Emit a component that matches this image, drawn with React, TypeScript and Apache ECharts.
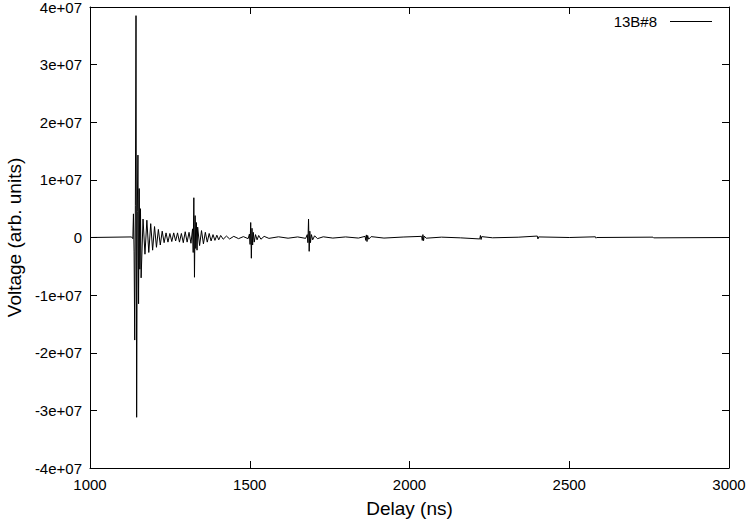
import React, { useEffect, useRef } from "react";
import * as echarts from "echarts";

// Delay in ns
const delays: number[] = [
  1000, 1130, 1134,
  1136, 1138, 1140, 1142, 1144, 1146, 1148, 1150, 1152, 1154, 1156, 1158, 1160,
  1166, 1172, 1178, 1184, 1190, 1196, 1202, 1208, 1214, 1220, 1226, 1232, 1238,
  1244, 1250, 1256, 1262, 1268, 1274, 1280, 1286, 1292, 1298, 1304, 1310, 1316,
  1321, 1323, 1325, 1327, 1329, 1331, 1333, 1335, 1337,
  1343, 1349, 1355, 1361, 1367, 1373, 1379, 1385, 1391, 1397, 1403, 1409, 1417,
  1427, 1437, 1450, 1465, 1480, 1495,
  1499, 1501, 1503, 1505, 1507, 1509, 1511, 1514, 1518, 1523, 1528, 1535, 1545, 1560,
  1590, 1620, 1650, 1675,
  1680, 1682, 1684, 1686, 1688, 1690, 1693, 1697, 1703, 1712, 1730, 1760, 1800, 1840,
  1861, 1863, 1865, 1867, 1869, 1872, 1880, 1920, 1980,
  2038, 2040, 2042, 2044, 2046, 2052, 2100, 2160,
  2220, 2222, 2224, 2226, 2260, 2340,
  2400, 2402, 2404, 2500, 2582, 2584, 2586, 2762, 2764, 3000,
];

// Voltage in millions of arb. units
const voltageMillions: number[] = [
  0, 0.1, -0.2,
  4.1, -2.5, -17.8, 5.5, 38.5, -31.2, 4.5, 14.3, -11.5, 8.5, -5.5, 5.0, -7.0,
  3.2, -2.9, 3.0, -2.6, 2.4, -2.2, 1.9, -1.7, 1.4, -1.3, 1.1, -0.9, 0.8,
  -0.8, 0.7, -0.7, 0.8, -0.6, 0.8, -0.8, 0.7, -0.9, 1.0, -0.8, 0.9, -1.0,
  1.5, -2.6, 6.9, -6.9, 3.8, -1.9, 2.6, -2.2, 1.8,
  -1.4, 1.2, -1.1, 0.9, -0.8, 0.7, -0.6, 0.5, -0.5, 0.4, -0.4, 0.35, -0.3,
  0.25, -0.25, 0.2, -0.2, 0.15, -0.2,
  0.6, -1.2, 2.6, -3.6, 1.6, -1.3, 0.9, -0.8, 0.5, -0.4, 0.35, -0.3, 0.2, -0.15,
  0.12, -0.12, 0.1, -0.15,
  0.5, -0.9, 3.2, -2.4, 1.1, -0.9, 0.5, -0.4, 0.3, -0.2, 0.12, -0.1, 0.1, -0.1,
  0.2, -0.5, 0.45, -0.7, 0.35, -0.3, 0.15, -0.1, 0.08,
  0.2, -0.5, 0.5, -0.55, 0.25, -0.12, 0.06, -0.06,
  -0.25, 0.35, -0.35, 0.15, -0.05, 0.05,
  0.25, -0.25, 0.1, 0, 0.12, -0.12, 0, 0.06, -0.06, 0,
];

const xTicks: number[] = [1000, 1500, 2000, 2500, 3000];
const yTicks: number[] = [-4e7, -3e7, -2e7, -1e7, 0, 1e7, 2e7, 3e7, 4e7];
const seriesName = "13B#8";

const FONT = "Liberation Sans, Arial, Helvetica, sans-serif";

export default function App() {
  const ref = useRef<HTMLDivElement>(null);
  useEffect(() => {
    if (!ref.current) return;
    const chart = echarts.init(ref.current, undefined, { renderer: "svg" });
    const data = delays.map((d, i) => [d, voltageMillions[i] * 1e6]);
    const axisLine = { show: true, onZero: false, lineStyle: { color: "#000", width: 1 } };
    const tick = { show: true, inside: true, length: 7, lineStyle: { color: "#000" } };
    const fmtY = (v: number) => (v === 0 ? "0" : `${Math.round(v / 1e7)}e+07`);
    const fmtX = (v: number) => String(v);
    chart.setOption({
      animation: false,
      backgroundColor: "#fff",
      textStyle: { fontFamily: FONT },
      grid: { left: 90, right: 18, top: 7, bottom: 52, containLabel: false, outerBoundsMode: "none" },
      legend: {
        show: true,
        top: 9,
        right: 30,
        align: "right",
        icon: "rect",
        itemWidth: 42,
        itemHeight: 1,
        itemGap: 10,
        textStyle: { fontSize: 15, color: "#000", fontFamily: FONT, padding: [0, 8, 0, 0] },
        data: [{ name: seriesName, itemStyle: { color: "#000" } }],
      },
      xAxis: [
        {
          type: "value",
          position: "bottom",
          min: xTicks[0],
          max: xTicks[xTicks.length - 1],
          interval: xTicks[1] - xTicks[0],
          axisLine,
          axisTick: tick,
          splitLine: { show: false },
          axisLabel: { color: "#000", fontSize: 15, margin: 9, fontFamily: FONT, formatter: fmtX },
          name: "Delay (ns)",
          nameLocation: "middle",
          nameGap: 31,
          nameTextStyle: { fontSize: 19, color: "#000", fontFamily: FONT },
        },
        {
          type: "value",
          position: "top",
          min: xTicks[0],
          max: xTicks[xTicks.length - 1],
          interval: xTicks[1] - xTicks[0],
          axisLine,
          axisTick: tick,
          splitLine: { show: false },
          axisLabel: { show: false },
        },
      ],
      yAxis: [
        {
          type: "value",
          position: "left",
          min: yTicks[0],
          max: yTicks[yTicks.length - 1],
          interval: 1e7,
          axisLine,
          axisTick: tick,
          splitLine: { show: false },
          axisLabel: { color: "#000", fontSize: 15, margin: 8, formatter: fmtY, fontFamily: FONT },
          name: "Voltage (arb. units)",
          nameLocation: "middle",
          nameGap: 66,
          nameTextStyle: { fontSize: 19, color: "#000", fontFamily: FONT },
        },
        {
          type: "value",
          position: "right",
          min: yTicks[0],
          max: yTicks[yTicks.length - 1],
          interval: 1e7,
          axisLine,
          axisTick: tick,
          splitLine: { show: false },
          axisLabel: { show: false },
        },
      ],
      series: [
        {
          name: seriesName,
          type: "line",
          data,
          xAxisIndex: 0,
          yAxisIndex: 0,
          showSymbol: false,
          symbol: "none",
          lineStyle: { color: "#000", width: 1 },
          itemStyle: { color: "#000" },
          z: 3,
        },
      ],
    });
    return () => chart.dispose();
  }, []);
  return <div ref={ref} style={{ width: 747, height: 520, position: "absolute", left: 0, top: 0 }} />;
}
